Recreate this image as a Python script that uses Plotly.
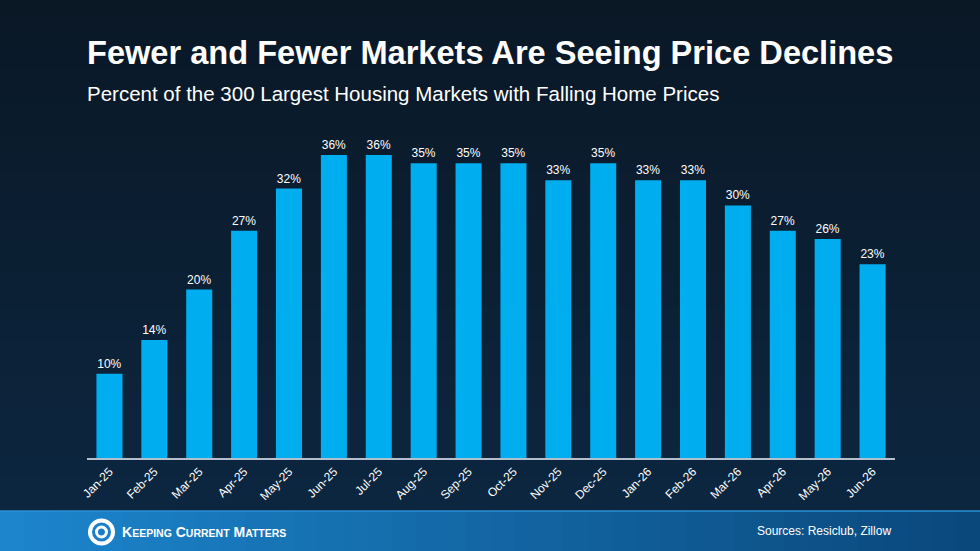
import plotly.graph_objects as go

# values
months = ['Jan-25', 'Feb-25', 'Mar-25', 'Apr-25', 'May-25', 'Jun-25', 'Jul-25', 'Aug-25', 'Sep-25',
          'Oct-25', 'Nov-25', 'Dec-25', 'Jan-26', 'Feb-26', 'Mar-26', 'Apr-26', 'May-26', 'Jun-26']
pct_falling = [10, 14, 20, 27, 32, 36, 36, 35, 35, 35, 33, 35, 33, 33, 30, 27, 26, 23]

title = 'Fewer and Fewer Markets Are Seeing Price Declines'
subtitle = 'Percent of the 300 Largest Housing Markets with Falling Home Prices'
source = 'Sources: Resiclub, Zillow'

BAR = '#00aeef'
FONT = 'Liberation Sans, Arial, sans-serif'

# plot area in pixels (left, top, right, bottom)
L, T, R, B = 87, 130, 895, 458
W, H = R - L, B - T


def px(x):
    return (x - L) / W


def py(y):
    return (B - y) / H


def lerp(c0, c1, t):
    return 'rgb(%d,%d,%d)' % tuple(round(c0[k] + (c1[k] - c0[k]) * t) for k in range(3))


fig = go.Figure()
fig.add_trace(go.Bar(
    x=months, y=pct_falling,
    marker=dict(color=BAR, line=dict(width=0)),
    width=0.58,
    text=[f'{v}%' for v in pct_falling],
    textposition='outside',
    textfont=dict(color='white', size=12, family=FONT),
    cliponaxis=False,
    hoverinfo='skip',
))

shapes = []
# background: dark navy, slightly lighter towards the bottom
n = 30
for i in range(n):
    y0 = i * 511 / n
    y1 = (i + 1) * 511 / n + 1
    shapes.append(dict(type='rect', xref='paper', yref='paper', x0=px(0), x1=px(980),
                       y0=py(y1), y1=py(y0), fillcolor=lerp((10, 24, 38), (12, 38, 64), i / (n - 1)),
                       line=dict(width=0), layer='below'))
# footer band with a left-to-right blue gradient
n = 40
for i in range(n):
    x0 = i * 980 / n
    x1 = (i + 1) * 980 / n + 1
    shapes.append(dict(type='rect', xref='paper', yref='paper', x0=px(x0), x1=px(x1),
                       y0=py(552), y1=py(511), fillcolor=lerp((28, 133, 204), (10, 72, 124), i / (n - 1)),
                       line=dict(width=0), layer='below'))
shapes.append(dict(type='line', xref='paper', yref='paper', x0=px(0), x1=px(980),
                   y0=py(511), y1=py(511), line=dict(color='#2b8fd3', width=1.5)))
# logo swirl
shapes.append(dict(type='circle', xref='paper', yref='paper',
                   x0=px(90), x1=px(113), y0=py(543.5), y1=py(520.5),
                   line=dict(color='white', width=4)))
shapes.append(dict(type='circle', xref='paper', yref='paper',
                   x0=px(96.5), x1=px(106.5), y0=py(537), y1=py(527),
                   line=dict(color='white', width=3)))

sc = "<span style='font-size:10.5px'>"
logo = 'K' + sc + 'EEPING</span> C' + sc + 'URRENT</span> M' + sc + 'ATTERS</span>'

annotations = [
    dict(text='<b>' + title + '</b>', xref='paper', yref='paper', x=px(85), y=py(52),
         xanchor='left', yanchor='middle', showarrow=False,
         font=dict(color='white', size=32.6, family=FONT)),
    dict(text=subtitle, xref='paper', yref='paper', x=px(85), y=py(93),
         xanchor='left', yanchor='middle', showarrow=False,
         font=dict(color='white', size=20.5, family=FONT)),
    dict(text=source, xref='paper', yref='paper', x=px(893), y=py(531),
         xanchor='right', yanchor='middle', showarrow=False,
         font=dict(color='white', size=12, family=FONT)),
    dict(text='<b>' + logo + '</b>', xref='paper', yref='paper', x=px(120), y=py(532),
         xanchor='left', yanchor='middle', showarrow=False,
         font=dict(color='white', size=14, family=FONT)),
]

fig.update_layout(
    width=980, height=551,
    margin=dict(l=L, r=980 - R, t=T, b=551 - B),
    paper_bgcolor='#0b2033', plot_bgcolor='rgba(0,0,0,0)',
    showlegend=False,
    xaxis=dict(range=[-0.5, 17.5], tickangle=-45, showgrid=False, ticks='',
               showline=True, linecolor='#b3bfcc', linewidth=2,
               tickfont=dict(color='white', size=12, family=FONT)),
    yaxis=dict(range=[0, H / 8.42], visible=False, showgrid=False, zeroline=False),
    shapes=shapes,
    annotations=annotations,
)

fig.write_html('out.html', config={'displayModeBar': False},
               post_script="document.body.style.margin='0';")
